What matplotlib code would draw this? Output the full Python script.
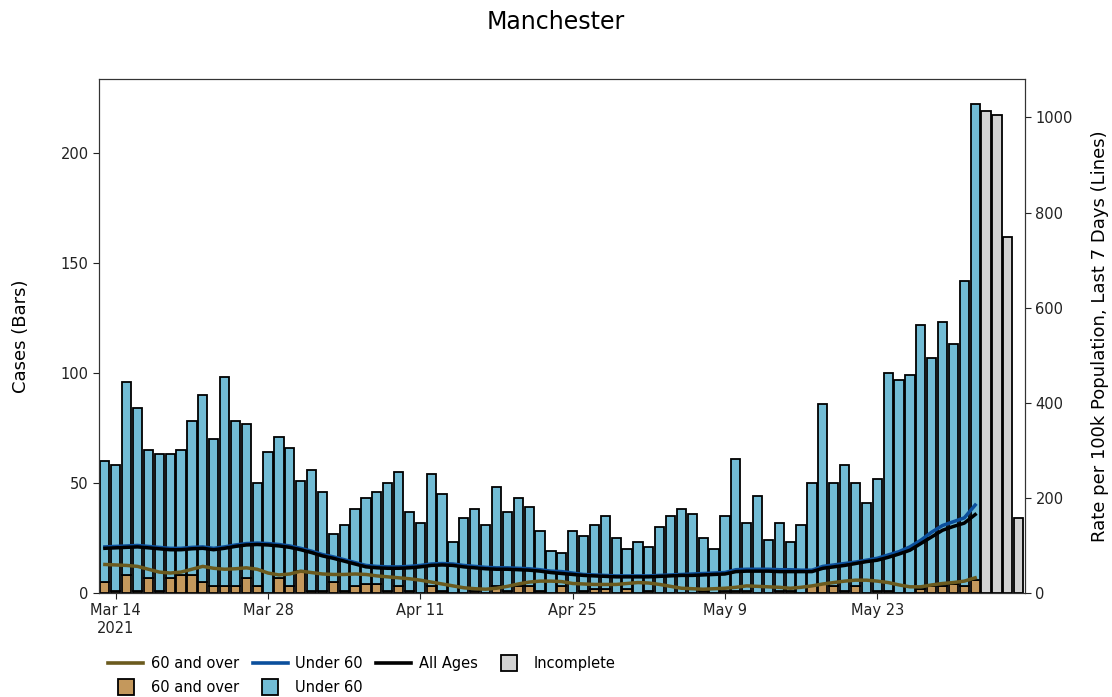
import pandas as pd
import matplotlib.pyplot as plt
from matplotlib.lines import Line2D

# daily cases, 13 Mar 2021 - 1 Jun 2021 (complete days)
start_date = "2021-03-13"

over_60 = [5, 1, 8, 1, 7, 1, 7, 8, 8, 5,
           3, 3, 3, 7, 3, 0, 7, 3, 10, 1,
           1, 5, 1, 3, 4, 4, 1, 3, 1, 0,
           3, 1, 0, 0, 1, 0, 3, 1, 3, 3,
           1, 0, 3, 0, 1, 2, 2, 0, 2, 0,
           1, 0, 0, 0, 0, 1, 0, 1, 1, 1,
           0, 0, 1, 1, 0, 3, 4, 3, 1, 3,
           0, 1, 1, 0, 0, 2, 3, 3, 4, 3, 6]

under_60 = [55, 57, 88, 83, 58, 62, 56, 57, 70, 85,
            67, 95, 75, 70, 47, 64, 64, 63, 41, 55,
            45, 22, 30, 35, 39, 42, 49, 52, 36, 32,
            51, 44, 23, 34, 37, 31, 45, 36, 40, 36,
            27, 19, 15, 28, 25, 29, 33, 25, 18, 23,
            20, 30, 35, 38, 36, 24, 20, 34, 60, 31,
            44, 24, 31, 22, 31, 47, 82, 47, 57, 47,
            41, 51, 99, 97, 99, 120, 104, 120, 109, 139, 216]

# last four days, still incomplete (2 - 5 Jun)
incomplete = [219, 217, 162, 34]

# 7 day rate per 100k
rate_over_60 = [60, 59, 58, 56, 50, 44, 42, 44, 50, 56,
                52, 50, 51, 53, 50, 42, 38, 40, 46, 43,
                40, 39, 39, 40, 39, 36, 34, 32, 30, 27,
                23, 19, 15, 11, 9, 8, 10, 14, 19, 23,
                25, 25, 24, 20, 19, 18, 18, 18, 20, 22,
                21, 18, 14, 10, 9, 8, 9, 10, 12, 15,
                14, 13, 12, 10, 12, 15, 19, 22, 25, 27,
                27, 25, 22, 17, 13, 13, 17, 20, 22, 25, 32]

rate_under_60 = [97, 98, 99, 100, 98, 96, 94, 94, 96, 97,
                 94, 97, 101, 104, 105, 104, 102, 99, 94, 88,
                 81, 76, 70, 64, 58, 56, 55, 55, 56, 58,
                 61, 62, 61, 58, 56, 54, 53, 53, 52, 51,
                 49, 46, 45, 42, 39, 38, 37, 36, 36, 36,
                 36, 37, 38, 39, 40, 41, 42, 43, 49, 50,
                 50, 50, 49, 49, 48, 48, 56, 59, 62, 65,
                 69, 73, 80, 87, 97, 111, 128, 142, 150, 158, 185]

rate_all = [94, 95, 96, 97, 95, 93, 91, 91, 93, 94,
            91, 94, 98, 101, 102, 101, 99, 96, 91, 85,
            78, 73, 67, 61, 55, 53, 52, 52, 53, 55,
            58, 59, 58, 55, 53, 51, 50, 50, 49, 48,
            46, 43, 41, 39, 37, 36, 35, 34, 34, 34,
            34, 35, 36, 37, 37, 38, 39, 40, 45, 46,
            46, 46, 45, 45, 45, 45, 52, 55, 58, 62,
            66, 69, 75, 82, 90, 104, 118, 132, 140, 147, 165]

tick_dates = ["2021-03-14", "2021-03-28", "2021-04-11", "2021-04-25", "2021-05-09", "2021-05-23"]
tick_labels = ["Mar 14\n2021", "Mar 28", "Apr 11", "Apr 25", "May 9", "May 23"]

tan = "#c4985c"
light_blue = "#72bcd5"
grey = "#d3d3d3"
olive = "#6b5a1e"
dark_blue = "#0b4f9c"

days = pd.date_range(start_date, periods=len(over_60), freq="D")
days_incomplete = pd.date_range(days[-1] + pd.Timedelta(days=1), periods=len(incomplete), freq="D")

fig = plt.figure(figsize=(11.12, 6.97), dpi=100)
ax = fig.add_axes([0.089, 0.1492, 0.8328, 0.7375])

# stacked bars: 60+ at the bottom, under 60 on top
ax.bar(days, over_60, width=0.85, color=tan, edgecolor="black", linewidth=1.3)
ax.bar(days, under_60, bottom=over_60, width=0.85, color=light_blue, edgecolor="black", linewidth=1.3)
ax.bar(days_incomplete, incomplete, width=0.85, color=grey, edgecolor="black", linewidth=1.3)

ax.set_ylim(0, 233.6)
ax.set_yticks([0, 50, 100, 150, 200])
ax.set_xlim(days[0] - pd.Timedelta(hours=13), days_incomplete[-1] + pd.Timedelta(hours=14))
ax.set_xticks(pd.to_datetime(tick_dates))
ax.set_xticklabels(tick_labels)
ax.set_ylabel("Cases (Bars)", fontsize=13, labelpad=22)

# rate lines on the right hand axis
ax2 = ax.twinx()
ax2.plot(days, rate_over_60, color=olive, linewidth=2.5)
ax2.plot(days, rate_under_60, color=dark_blue, linewidth=2.5)
ax2.plot(days, rate_all, color="black", linewidth=2.5)
ax2.set_ylim(0, 1081)
ax2.set_yticks([0, 200, 400, 600, 800, 1000])
ax2.set_ylabel("Rate per 100k Population, Last 7 Days (Lines)", fontsize=13, labelpad=13)

for a in (ax, ax2):
    a.tick_params(labelsize=10.5, colors="#222222", length=4)
    for spine in a.spines.values():
        spine.set_color("#333333")

fig.suptitle("Manchester", fontsize=17, y=0.985)


def box(colour):
    # square legend marker for the bar entries
    return Line2D([], [], linestyle="none", marker="s", markersize=11.5,
                  markerfacecolor=colour, markeredgecolor="black", markeredgewidth=1.3)


# legend, filled column by column so the rows come out like the original
handles = [
    Line2D([], [], color=olive, linewidth=2.6),
    box(tan),
    Line2D([], [], color=dark_blue, linewidth=2.6),
    box(light_blue),
    Line2D([], [], color="black", linewidth=2.6),
    box(grey),
]
labels = ["60 and over", "60 and over", "Under 60", "Under 60", "All Ages", "Incomplete"]
ax.legend(handles, labels, ncol=4, loc="upper left", bbox_to_anchor=(-0.004, -0.097),
          frameon=False, fontsize=10.5, handlelength=2.4, columnspacing=0.95,
          handletextpad=0.5, labelspacing=0.65)

fig.savefig("out.png", dpi=100)
